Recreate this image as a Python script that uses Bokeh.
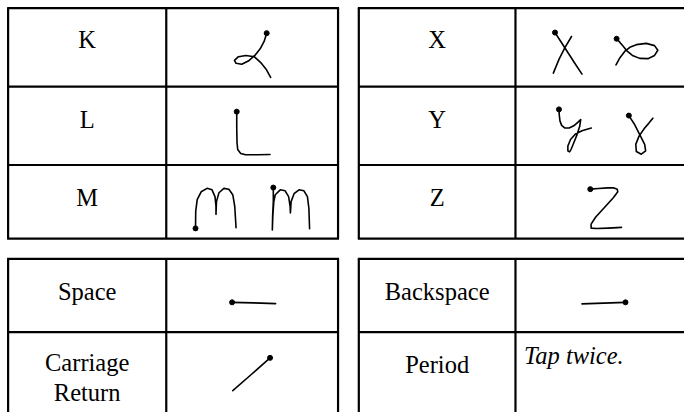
from bokeh.plotting import figure
from bokeh.models import Range1d
from bokeh.core.properties import value
from bokeh.embed import file_html
from bokeh.resources import INLINE

# ---------------- data ----------------
letters_left = ["K", "L", "M"]
letters_right = ["X", "Y", "Z"]
special_left = ["Space", "Carriage", "Return"]
special_right = ["Backspace", "Period"]
note_text = "Tap twice."

# pen strokes (reference pixel coordinates), with where the start dot goes
stroke_K = [(269.3,33.3),(266.7,41.7),(262.7,49.3),(257.3,56),(250.7,61.7),(244,65),(238.3,64),
            (236.7,61),(240.7,57.3),(248.3,56),(256.7,57.3),(263.3,63.3),(268.7,70),(273.3,78.3)]
stroke_L = [(239,113.3),(239,130),(239.3,145),(240,152),(243,156),(248,157.3),(260,157.3),(272.7,157)]
stroke_M1 = [(197.3,232.3),(197.5,215),(199,203),(203,195),(209,191.5),(214,193),(217,200),(218,210),
             (218,218),(218.5,205),(221,196),(226,191.5),(231,192.5),(235,198),(237,210),(238.3,231.7)]
stroke_M2 = [(276,190.7),(276,205),(275.3,220),(275,234),(275.5,220),(276.5,205),(278,198),(283,193),
             (288,194),(291.5,200),(293,210),(293.3,216.7),(294,205),(297,197),(302,193),(307,194),
             (310.5,200),(312,212),(312.7,232.7)]
stroke_X1a = [(561,32.7),(567,42),(574,53),(581,64),(588.3,75)]
stroke_X1b = [(577.7,36.7),(571,48),(565,60),(559.3,74)]
stroke_X2 = [(623.3,39),(626.7,42.7),(630,46.7),(634,51.7),(639.3,56),(646.7,59),(655,59.3),(661.7,56),
             (665,50.7),(661.7,46),(653.3,43.7),(643.3,45),(636.7,47.7),(631.7,51.7),(626.7,58.3),(622.7,65.7)]
stroke_Y1 = [(565,111),(565.3,116.7),(566,122.7),(567.7,127.3),(571,130),(575.3,130),(580,127.7),
             (584.3,124),(587,121.3),(586,128.3),(583.3,136.7),(580,145),(577.3,151.7),(575.7,154.3),
             (574,153.3),(574,148.3),(576.7,141.7),(581.7,136),(588.3,132.7),(597.7,130)]
stroke_Y2 = [(635.7,117.3),(641.7,126.7),(646.7,136.7),(651.7,146.7),(652.7,153.3),(648.3,156.7),
             (643.3,154),(642.7,146.7),(646,138.3),(651.7,130),(656,125),(660,120)]
stroke_Z = [(596.7,192.3),(605,191.7),(614,191),(620,191),(624,192.5),(624.5,195),(620,201),(611,211),
            (602,221),(597.5,228),(597.5,232),(603,232.5),(615,232),(628.3,231.3)]
stroke_space = [(234.3,307.7),(256,308.2),(278.3,309)]
stroke_back = [(588.3,309.3),(610,308.5),(632.3,307.7)]
stroke_cr = [(272.7,364.3),(254,381),(235,397.7)]

strokes = [stroke_K, stroke_L, stroke_M1, stroke_M2, stroke_X1a, stroke_X1b, stroke_X2,
           stroke_Y1, stroke_Y2, stroke_Z, stroke_space, stroke_back, stroke_cr]
dot_at = ["start", "start", "start", "start", "start", None, "start",
          "start", "start", "start", "start", "end", "start"]

# ---------------- layout ----------------
W, H = 684, 412
p = figure(width=W, height=H, output_backend="svg", toolbar_location=None,
           x_range=Range1d(0, 692), y_range=Range1d(420, 0), min_border=0)
p.axis.visible = False
p.grid.visible = False
p.outline_line_color = None
p.background_fill_color = "white"

# table frames
lx0, lx1, lxc = 7.7, 341.5, 167.7
rx0, rx1, rxc = 362.5, 697, 521
ty0, ty1 = 7.7, 242.7
trows = [87.7, 167.7]
by0, by1, brow = 263.3, 430, 338

xs0, ys0, xs1, ys1 = [], [], [], []
def seg(a, b, c, d):
    xs0.append(a); ys0.append(b); xs1.append(c); ys1.append(d)

for (x0, x1, xc) in [(lx0, lx1, lxc), (rx0, rx1, rxc)]:
    seg(x0 - 1, ty0, x1 + 1, ty0); seg(x0 - 1, ty1, x1 + 1, ty1)
    seg(x0, ty0, x0, ty1); seg(x1, ty0, x1, ty1); seg(xc, ty0, xc, ty1)
    for r in trows:
        seg(x0, r, x1, r)
    seg(x0 - 1, by0, x1 + 1, by0); seg(x0, by1, x1, by1)
    seg(x0, by0, x0, by1); seg(x1, by0, x1, by1); seg(xc, by0, xc, by1)
    seg(x0, brow, x1, brow)

p.segment(xs0, ys0, xs1, ys1, line_color="black", line_width=2.2)

# labels
font = value("Liberation Serif")
fs = value("24.5px")
lcx = (lx0 + lxc) / 2
rcx = (rx0 + rxc) / 2
top_base = [40, 121, 200.5]
common = dict(text_font=font, text_font_size=fs, text_baseline="alphabetic", text_color="black")
p.text(x=[lcx] * 3, y=top_base, text=letters_left, text_align="center", **common)
p.text(x=[rcx] * 3, y=top_base, text=letters_right, text_align="center", **common)
p.text(x=[lcx] * 3, y=[296.7, 369.3, 400], text=special_left, text_align="center", **common)
p.text(x=[rcx] * 2, y=[296.7, 370.7], text=special_right, text_align="center", **common)
p.text(x=[rxc + 8.5], y=[362], text=[note_text], text_font_style="italic",
       text_align="left", **common)

# strokes
p.multi_line(xs=[[pt[0] for pt in s] for s in strokes], ys=[[pt[1] for pt in s] for s in strokes],
             line_color="black", line_width=1.6, line_join="round", line_cap="round")
dx, dy = [], []
for s, d in zip(strokes, dot_at):
    if d == "start":
        dx.append(s[0][0]); dy.append(s[0][1])
    elif d == "end":
        dx.append(s[-1][0]); dy.append(s[-1][1])
p.scatter(dx, dy, size=5, fill_color="black", line_color="black")

open("out.html", "w").write(file_html(p, INLINE))
